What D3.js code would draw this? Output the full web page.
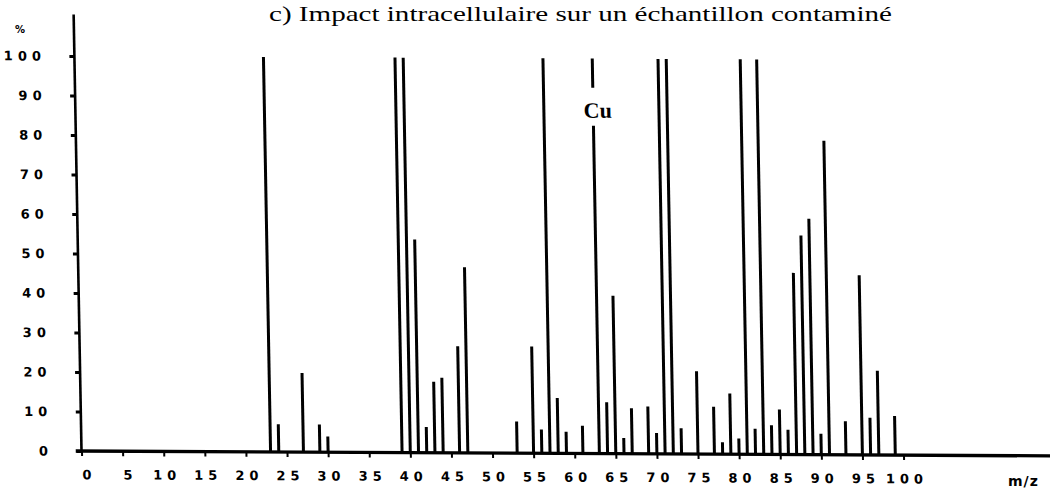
<!DOCTYPE html>
<html>
<head>
<meta charset="utf-8">
<script src="https://cdn.jsdelivr.net/npm/d3@7"></script>
<style>
  html, body { margin: 0; padding: 0; background: #fff; }
  svg { display: block; }
</style>
</head>
<body>
<svg id="chart" width="1050" height="488"></svg>
<script>
// Mass spectrum of a contaminated sample: peak positions (m/z) and relative intensity (%)
const massToCharge = [23, 24, 27, 29, 30, 39, 40, 41, 42, 43, 44, 46, 47, 53, 55, 56, 57, 58, 59, 61,
                      63, 64, 65, 66, 67, 69, 70, 71, 72, 73, 75, 77, 78, 79, 80, 81, 82, 83, 84, 85,
                      86, 87, 88, 89, 90, 91, 93, 95, 96, 97, 99];
const intensity    = [100, 7, 20, 7, 4, 100, 100, 54, 6.5, 18, 19, 27, 47, 8, 27, 6, 100, 14, 5.5, 7,
                      100, 13, 40, 4, 11.5, 12, 5.3, 100, 100, 6.5, 21, 12, 3, 15.4, 4, 100, 6.5, 100, 7.4, 11.4,
                      6.3, 46, 55.5, 59.7, 5.3, 79.5, 8.5, 45.5, 9.4, 21.3, 9.9];

const xTicks = [0, 5, 10, 15, 20, 25, 30, 35, 40, 45, 50, 55, 60, 65, 70, 75, 80, 85, 90, 95, 100];
const yTicks = [0, 10, 20, 30, 40, 50, 60, 70, 80, 90, 100];

const copperMass = 63;
const copperLabel = "Cu";
const titleText = "c) Impact intracellulaire sur un échantillon contaminé";
const xUnit = "m/z";
const yUnit = "%";

const svg = d3.select("#chart");

const x = d3.scaleLinear().domain([0, 100]).range([81.5, 903.5]);
const y = d3.scaleLinear().domain([0, 100]).range([451, 56]);

// The printed plot frame is slightly sheared: verticals lean left, the baseline drops to the right.
const shearX = 0.018, shearY = 0.005;
const plot = svg.append("g")
  .attr("transform", `matrix(1,${shearY},${shearX},1,${-shearX * y(0)},${-shearY * x(0)})`);

const tickFont = g => g.selectAll(".tick text")
  .attr("font-family", "'DejaVu Sans', sans-serif")
  .attr("font-weight", "bold")
  .attr("font-size", 13)
  .attr("letter-spacing", 5)
  .attr("fill", "#000");

// Vertical axis
const yAxis = d3.axisLeft(y).tickValues(yTicks).tickSize(5).tickPadding(23.5).tickFormat(d3.format("d"));
const gy = plot.append("g").attr("transform", `translate(${x(0)},0)`).call(yAxis);
gy.select(".domain").remove();
gy.selectAll(".tick line").attr("stroke", "#000").attr("stroke-width", 3);
gy.call(tickFont);

plot.append("line")
  .attr("x1", x(0)).attr("x2", x(0))
  .attr("y1", y(0) + 1).attr("y2", y(110.5))
  .attr("stroke", "#000").attr("stroke-width", 2.6);

// Horizontal axis
const xAxis = d3.axisBottom(x).tickValues(xTicks).tickSize(5).tickPadding(14).tickFormat(d3.format("d"));
const gx = plot.append("g").attr("transform", `translate(0,${y(0)})`).call(xAxis);
gx.select(".domain").remove();
gx.selectAll(".tick line").attr("stroke", "#000").attr("stroke-width", 2);
gx.call(tickFont);
gx.selectAll(".tick text").attr("dx", d => d < 10 ? 7 : 2.5);

plot.append("line")
  .attr("x1", x(-0.7)).attr("x2", x(118))
  .attr("y1", y(0)).attr("y2", y(0))
  .attr("stroke", "#000").attr("stroke-width", 3.4);

// Peaks
const peaks = massToCharge.map((m, i) => ({ m, v: intensity[i] }));

plot.selectAll("line.peak")
  .data(peaks.filter(p => p.m !== copperMass))
  .join("line")
  .attr("class", "peak")
  .attr("x1", d => x(d.m)).attr("x2", d => x(d.m))
  .attr("y1", y(0)).attr("y2", d => y(d.v))
  .attr("stroke", "#000").attr("stroke-width", 3);

// Copper peak, interrupted by its label
const cu = peaks.find(p => p.m === copperMass);
const cuText = plot.append("text")
  .attr("x", x(cu.m) + 4.5)
  .attr("y", y(85))
  .attr("text-anchor", "middle")
  .attr("font-family", "'Liberation Serif', 'Times New Roman', serif")
  .attr("font-weight", "bold")
  .attr("font-size", 22)
  .text(copperLabel);
const box = cuText.node().getBBox();

plot.append("line")
  .attr("x1", x(cu.m)).attr("x2", x(cu.m))
  .attr("y1", y(cu.v)).attr("y2", box.y - 10)
  .attr("stroke", "#000").attr("stroke-width", 3);
plot.append("line")
  .attr("x1", x(cu.m)).attr("x2", x(cu.m))
  .attr("y1", box.y + box.height + 3).attr("y2", y(0))
  .attr("stroke", "#000").attr("stroke-width", 3);

// Title and units
svg.append("text")
  .attr("x", 269).attr("y", 21)
  .attr("font-family", "'Liberation Serif', 'Times New Roman', serif")
  .attr("font-size", 22)
  .attr("textLength", 623)
  .attr("lengthAdjust", "spacingAndGlyphs")
  .text(titleText);

svg.append("text")
  .attr("x", 15).attr("y", 33)
  .attr("font-family", "'DejaVu Sans', sans-serif")
  .attr("font-weight", "bold")
  .attr("font-size", 10)
  .text(yUnit);

svg.append("text")
  .attr("x", 1008).attr("y", 486)
  .attr("font-family", "'DejaVu Sans', sans-serif")
  .attr("font-weight", "bold")
  .attr("font-size", 14)
  .attr("letter-spacing", 1)
  .text(xUnit);
</script>
</body>
</html>
